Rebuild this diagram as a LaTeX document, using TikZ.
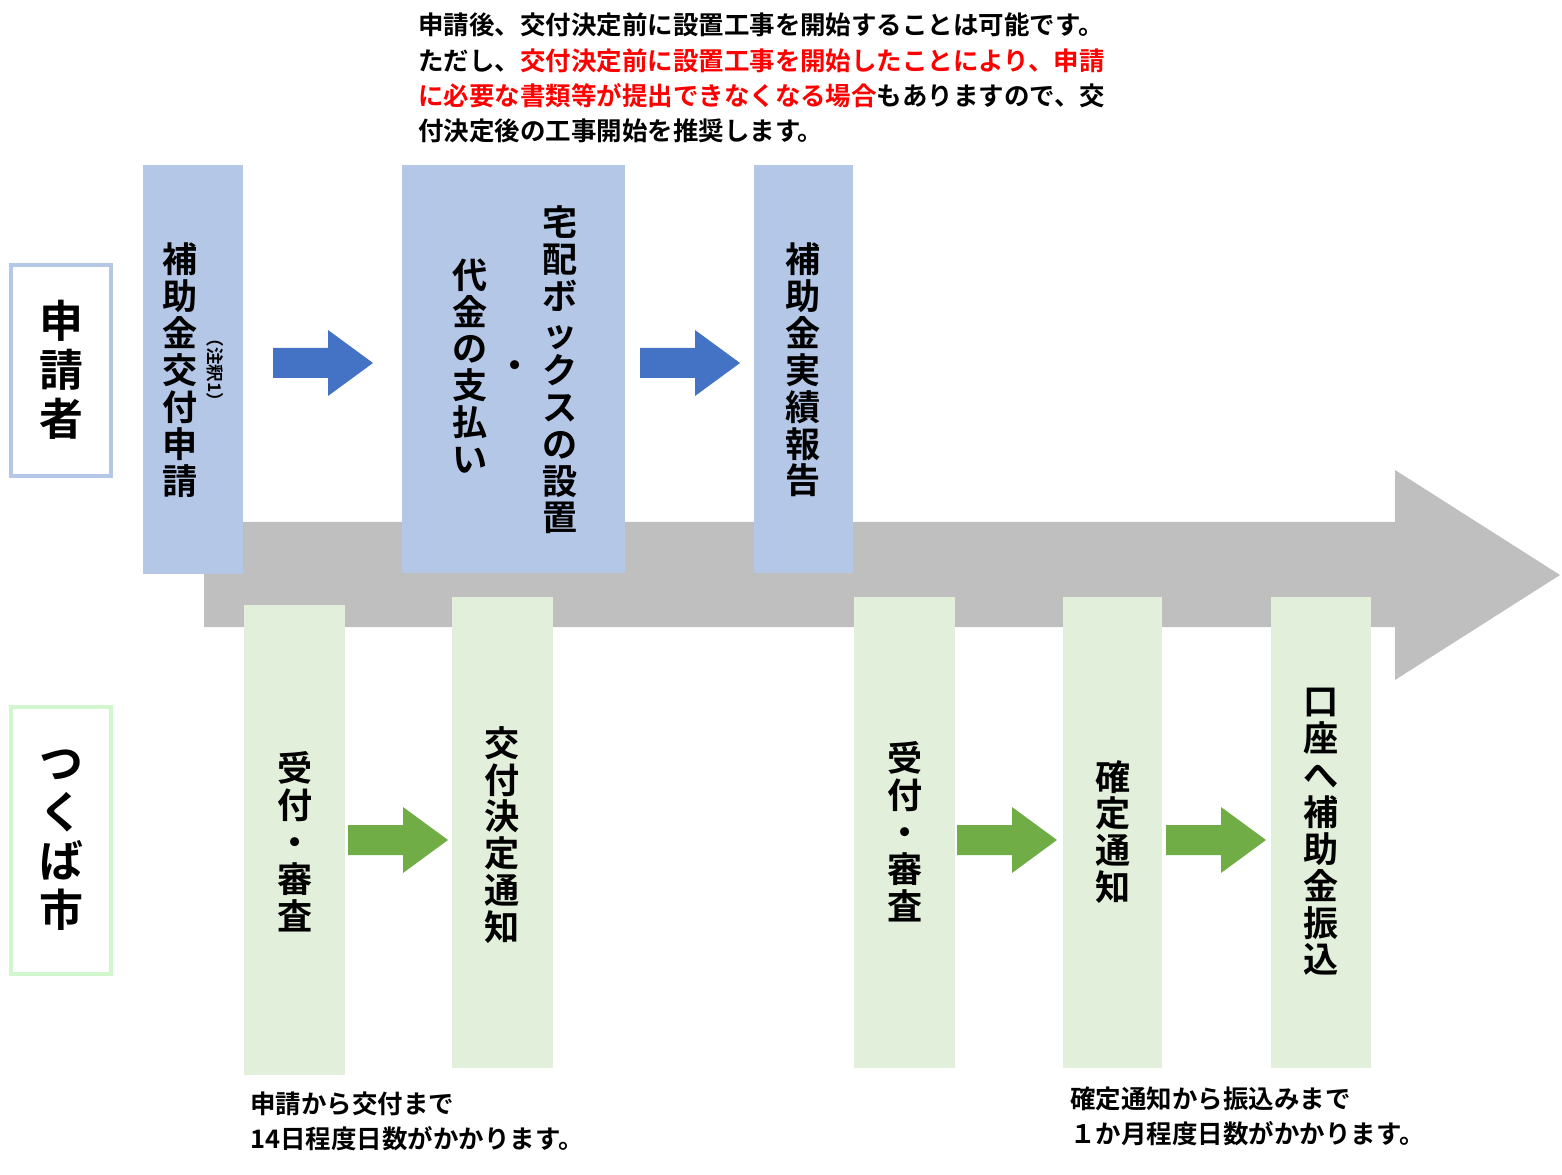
\documentclass[tikz,border=0pt]{standalone}
\usepackage{fontspec}
\setmainfont{Noto Sans CJK JP}[BoldFont={* Bold}]
\usetikzlibrary{positioning}
\definecolor{appblue}{HTML}{B4C7E7}
\definecolor{citygreen}{HTML}{E2EFDA}
\definecolor{arrblue}{HTML}{4472C4}
\definecolor{arrgreen}{HTML}{70AD47}
\tikzset{
	stagebox/.style={fill=#1, draw=none},
	vlabel/.style={align=center, font=\bfseries\fontsize{20}{21}\selectfont, inner sep=0pt},
	note/.style={anchor=west, align=left, font=\bfseries\fontsize{14.5}{20}\selectfont, inner sep=0pt}
}
\newcommand{\blockarrow}[4]{% x, y centre, colour
	\fill[#3] (#1-50,#2-15) -- (#1+5,#2-15) -- (#1+5,#2-33) -- (#1+50,#2) -- (#1+5,#2+33) -- (#1+5,#2+15) -- (#1-50,#2+15) -- cycle;}
\begin{document}
\begin{tikzpicture}[x=0.02cm, y=-0.02cm]
			\useasboundingbox (0,0) rectangle (1562,1175);

			% Big timeline arrow
			\fill[black!25] (204,522) -- (1395,522) -- (1395,470) -- (1560,575) -- (1395,680) -- (1395,627) -- (204,627) -- cycle;

			% Role labels
			\draw[appblue, line width=2.5pt] (11,265) rectangle (111,476);
			\node[vlabel, font=\bfseries\fontsize{25}{28}\selectfont] (applicant) at (61,370) {申\\請\\者};
			\draw[citygreen!80!green!60, line width=2.5pt] (11,707) rectangle (111,974);
			\node[vlabel, font=\bfseries\fontsize{25}{28}\selectfont] (city) at (61,840) {つ\\く\\ば\\市};

			% Applicant steps
			\fill[stagebox=appblue] (143,165) rectangle (243,574);
			\fill[stagebox=appblue] (402,165) rectangle (625,573);
			\fill[stagebox=appblue] (754,165) rectangle (853,573);
			\node[vlabel] (apply) at (180,370) {補\\助\\金\\交\\付\\申\\請};
			\node[rotate=-90, font=\bfseries\fontsize{10}{10}\selectfont, inner sep=0pt] (note1) at (215,370) {（注釈1）};
			\node[vlabel] (install) at (560,370) {宅\\配\\ボ\\ッ\\ク\\ス\\の\\設\\置};
			\node[vlabel] (dot) at (515,370) {・};
			\node[vlabel] (pay) at (470,366) {代\\金\\の\\支\\払\\い};
			\node[vlabel] (report) at (803,370) {補\\助\\金\\実\\績\\報\\告};

			% City steps
			\fill[stagebox=citygreen] (244,605) rectangle (345,1075);
			\fill[stagebox=citygreen] (452,597) rectangle (553,1068);
			\fill[stagebox=citygreen] (854,597) rectangle (955,1068);
			\fill[stagebox=citygreen] (1063,597) rectangle (1162,1068);
			\fill[stagebox=citygreen] (1271,597) rectangle (1371,1068);
			\node[vlabel] (check1) at (295,842) {受\\付\\・\\審\\査};
			\node[vlabel] (decide) at (502,835) {交\\付\\決\\定\\通\\知};
			\node[vlabel] (check2) at (905,832) {受\\付\\・\\審\\査};
			\node[vlabel] (fix) at (1113,832) {確\\定\\通\\知};
			\node[vlabel] (transfer) at (1321,832) {口\\座\\へ\\補\\助\\金\\振\\込};

			% Step arrows
			\blockarrow{323}{363}{arrblue}{}
			\blockarrow{690}{363}{arrblue}{}
			\blockarrow{398}{840}{arrgreen}{}
			\blockarrow{1007}{840}{arrgreen}{}
			\blockarrow{1216}{840}{arrgreen}{}

			% Notes
			\node[note] (topnote) at (418,78) {申請後、交付決定前に設置工事を開始することは可能です。\\
				ただし、\textcolor{red}{交付決定前に設置工事を開始したことにより、申請}\\
				\textcolor{red}{に必要な書類等が提出できなくなる場合}もありますので、交\\
				付決定後の工事開始を推奨します。};
			\node[note] (daysnote) at (250,1121) {申請から交付まで\\14日程度日数がかかります。};
			\node[note] (paynote) at (1070,1116) {確定通知から振込みまで\\１か月程度日数がかかります。};
		\end{tikzpicture}
\end{document}
